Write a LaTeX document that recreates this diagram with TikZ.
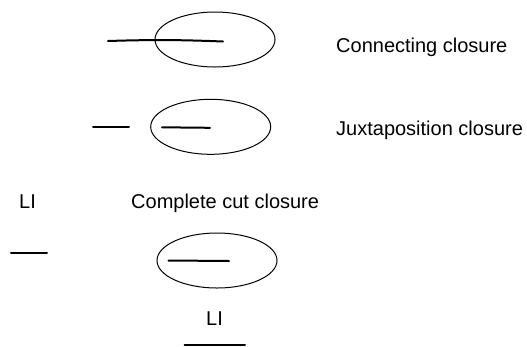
\documentclass[tikz,border=0pt]{standalone}
\usepackage{fontspec}
\setmainfont{Liberation Sans}
\usetikzlibrary{shapes.geometric}
\begin{document}
\begin{tikzpicture}[x=1pt,y=-1pt,
  closure/.style={draw,ellipse,line width=1pt,inner sep=0pt,minimum width=120pt,minimum height=55pt},
  stroke/.style={line width=2pt,line cap=round},
  lbl/.style={anchor=base west,inner sep=0pt,font=\fontsize{20}{24}\selectfont}]
\useasboundingbox (0,0) rectangle (527,346);
% Connecting closure
\node[closure] (e1) at (215,39.5) {};
\coordinate (a1) at (108,41);
\coordinate (b1) at (223,41.5);
\draw[stroke] (a1) to[bend left=2] (b1);
\node[lbl] (t1) at (336,52.3) {Connecting closure};
% Juxtaposition closure
\node[closure] (e2) at (210.7,126.8) {};
\coordinate (a2) at (93,127.3);
\coordinate (b2) at (129,127.3);
\draw[stroke] (a2) -- (b2);
\coordinate (c2) at (162,127.3);
\coordinate (d2) at (210,127.8);
\draw[stroke] (c2) -- (d2);
\node[lbl] (t2) at (336,135.7) {Juxtaposition closure};
% Complete cut closure
\node[lbl] (li1) at (19,208) {LI};
\node[lbl] (t3) at (131,208) {Complete cut closure};
\coordinate (a3) at (11,253);
\coordinate (b3) at (47,253);
\draw[stroke] (a3) -- (b3);
\node[closure] (e3) at (217,260.5) {};
\coordinate (c3) at (168.5,260.5);
\coordinate (d3) at (229,261);
\draw[stroke] (c3) -- (d3);
\node[lbl] (li2) at (206,325) {LI};
\coordinate (a4) at (184.5,344.5);
\coordinate (b4) at (245,344.5);
\draw[stroke] (a4) -- (b4);
\end{tikzpicture}
\end{document}
